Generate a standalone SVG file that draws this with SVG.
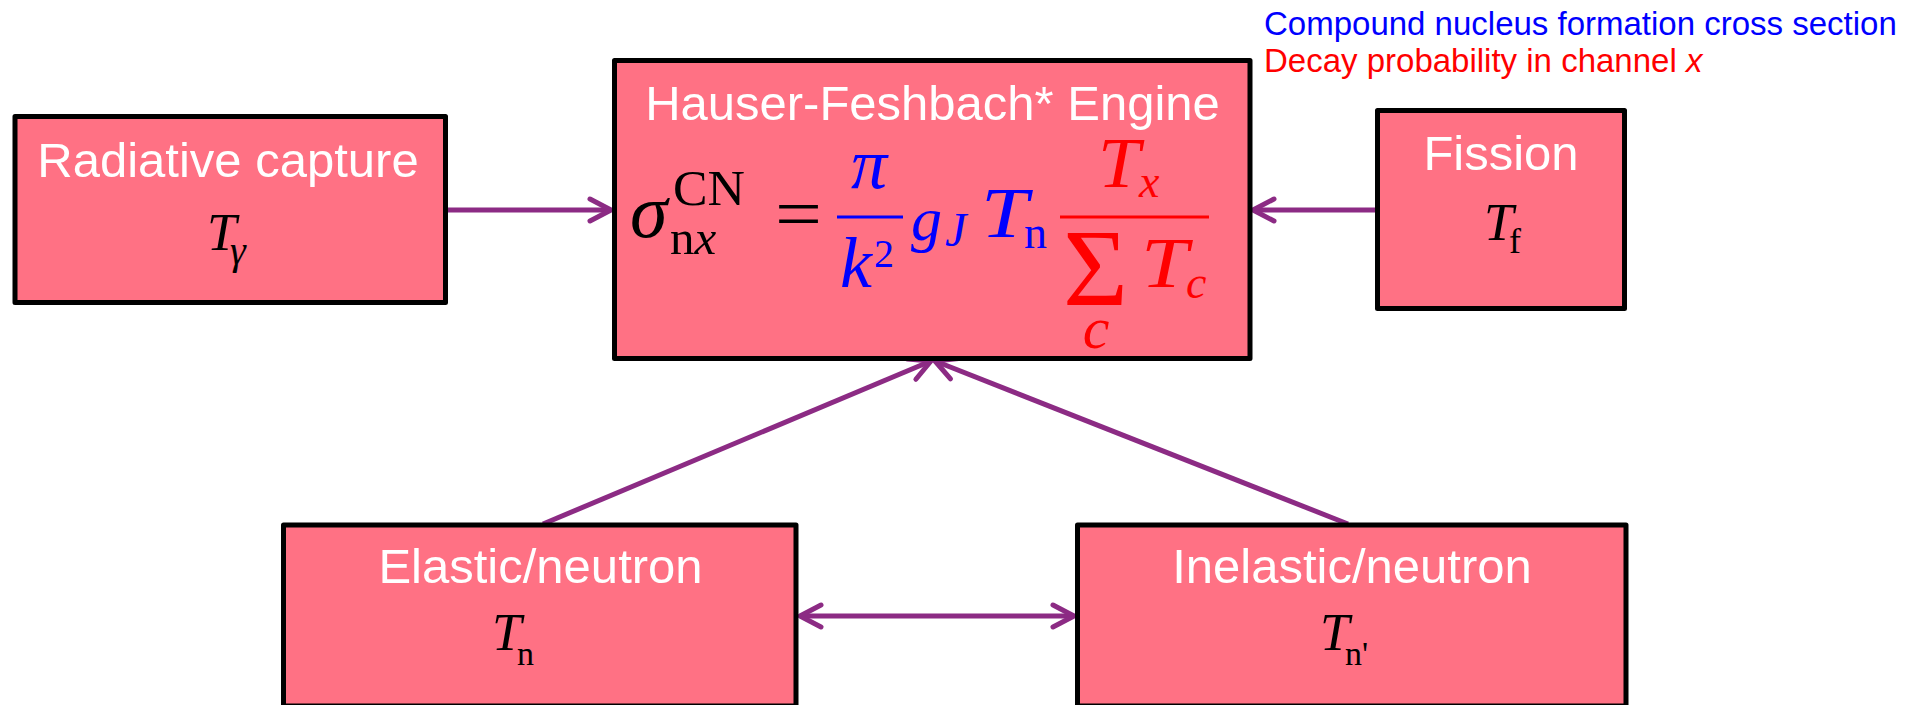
<svg xmlns="http://www.w3.org/2000/svg" width="1917" height="705" viewBox="0 0 1917 705">
<style>
.box{fill:#FF7184;stroke:#000;stroke-width:5;stroke-linejoin:round}
.lbl{font-family:"Liberation Sans",Arial,sans-serif;font-size:49px;fill:#fff;text-anchor:middle}
.m{font-family:"Liberation Serif","Times New Roman",serif}
.i{font-style:italic}
.note{font-family:"Liberation Sans",Arial,sans-serif;font-size:33px}
.con{stroke:#8C2B84;stroke-width:5;fill:none}
</style>
<defs>
<marker id="ah" markerUnits="userSpaceOnUse" markerWidth="40" markerHeight="40" viewBox="-30 -20 40 40" refX="0" refY="0" orient="auto-start-reverse">
<path d="M-21,-11 L0,0 L-21,11" fill="none" stroke="#8C2B84" stroke-width="5" stroke-linecap="round" stroke-linejoin="round"/>
</marker>
</defs>

<g id="connectors">
<line class="con" x1="448" y1="210" x2="611" y2="210" marker-end="url(#ah)"/>
<line class="con" x1="1376" y1="210" x2="1253" y2="210" marker-end="url(#ah)"/>
<line class="con" x1="543" y1="524" x2="931" y2="361" marker-end="url(#ah)"/>
<line class="con" x1="1348" y1="524" x2="935" y2="361" marker-end="url(#ah)"/>
<line class="con" x1="800" y1="616" x2="1074" y2="616" marker-start="url(#ah)" marker-end="url(#ah)"/>
</g>

<g id="radiative">
<rect class="box" x="15" y="116.5" width="430.5" height="186"/>
<text class="lbl" x="228" y="177">Radiative capture</text>
<text class="m i" x="207" y="250" font-size="53">T</text>
<text class="m i" x="230" y="264" font-size="40">γ</text>
</g>

<g id="engine">
<rect class="box" x="614.5" y="60.5" width="635.5" height="298"/>
<text class="lbl" x="932.5" y="120">Hauser-Feshbach* Engine</text>
<text class="m i" x="630" y="237" font-size="76">σ</text>
<text class="m" x="673" y="205" font-size="50" textLength="72" lengthAdjust="spacingAndGlyphs">CN</text>
<text class="m" x="670" y="254" font-size="49">n<tspan class="i">x</tspan></text>
<text class="m" x="775" y="238" font-size="72" textLength="47" lengthAdjust="spacingAndGlyphs">=</text>
<g fill="#0000FF">
<text class="m i" x="869" y="188" font-size="72" text-anchor="middle">π</text>
<line x1="837" y1="217" x2="903" y2="217" stroke="#0000FF" stroke-width="3"/>
<text class="m i" x="840" y="287" font-size="72">k</text>
<text class="m" x="874" y="267" font-size="40">2</text>
<text class="m i" x="911" y="240" font-size="62">g</text>
<text class="m i" x="945" y="246" font-size="48">J</text>
<text class="m i" x="981" y="237" font-size="72" textLength="47" lengthAdjust="spacingAndGlyphs">T</text>
<text class="m" x="1024" y="248" font-size="46">n</text>
</g>
<g fill="#FF0000">
<text class="m i" x="1098" y="187" font-size="72" textLength="42" lengthAdjust="spacingAndGlyphs">T</text>
<text class="m i" x="1139" y="197" font-size="46">x</text>
<line x1="1060" y1="217" x2="1209" y2="217" stroke="#FF0000" stroke-width="3"/>
<text class="m" x="1063" y="305" font-size="110" textLength="65" lengthAdjust="spacingAndGlyphs">Σ</text>
<text class="m i" x="1141" y="287" font-size="72" textLength="47" lengthAdjust="spacingAndGlyphs">T</text>
<text class="m i" x="1186" y="298" font-size="46">c</text>
<text class="m i" x="1096" y="348" font-size="60" text-anchor="middle">c</text>
</g>
</g>

<g id="fission">
<rect class="box" x="1377.5" y="110.5" width="247" height="198"/>
<text class="lbl" x="1501" y="170">Fission</text>
<text class="m i" x="1484" y="240" font-size="53">T</text>
<text class="m" x="1509" y="253" font-size="36">f</text>
</g>

<g id="elastic">
<rect class="box" x="283.5" y="525" width="512.5" height="181"/>
<text class="lbl" x="540.5" y="583">Elastic/neutron</text>
<text class="m i" x="492" y="650" font-size="53">T</text>
<text class="m" x="517" y="665" font-size="34">n</text>
</g>

<g id="inelastic">
<rect class="box" x="1077.5" y="525" width="548.5" height="181"/>
<text class="lbl" x="1352" y="583">Inelastic/neutron</text>
<text class="m i" x="1320" y="650" font-size="53">T</text>
<text class="m" x="1345" y="665" font-size="34">n'</text>
</g>

<g id="notes">
<text class="note" x="1264" y="35" fill="#0000FF">Compound nucleus formation cross section</text>
<text class="note" x="1264" y="72" fill="#FF0000">Decay probability in channel <tspan font-style="italic">x</tspan></text>
</g>
</svg>
